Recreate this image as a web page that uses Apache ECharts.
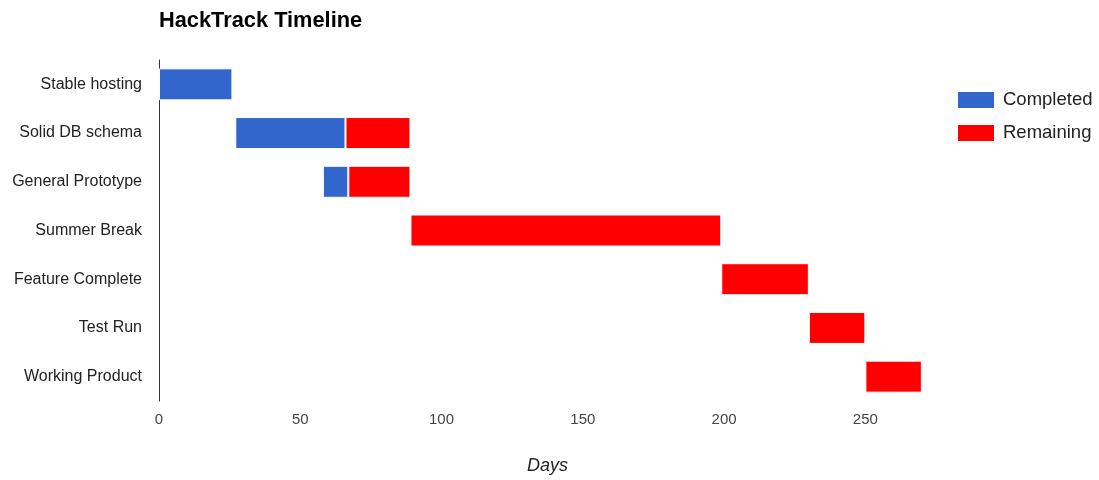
<!DOCTYPE html>
<html>
<head>
<meta charset="utf-8">
<script src="https://cdn.jsdelivr.net/npm/echarts@6/dist/echarts.min.js"></script>
<style>
  html, body { margin: 0; padding: 0; background: #fff; }
  #chart { width: 1099px; height: 480px; }
</style>
</head>
<body>
<div id="chart"></div>
<script>
// Project milestones, top to bottom
const tasks = ['Stable hosting', 'Solid DB schema', 'General Prototype', 'Summer Break',
               'Feature Complete', 'Test Run', 'Working Product'];
// Day on which each milestone starts
const startDays = [0, 27, 58, 89, 199, 230, 250];
// Days already done and days still to go
const completedDays = [26, 39, 9, 0, 0, 0, 0];
const remainingDays = [0, 23, 22, 110, 31, 20, 20];
// Tick values along the day axis
const dayTicks = [0, 50, 100, 150, 200, 250];

const FONT = '"Liberation Sans", Arial, sans-serif';
const chart = echarts.init(document.getElementById('chart'));

// thin white outline separates adjoining segments
const barStyle = { borderColor: '#ffffff', borderWidth: 1 };
const BAR_W = 32;

chart.setOption({
  animation: false,
  textStyle: { fontFamily: FONT },
  title: {
    text: 'HackTrack Timeline',
    left: 159, top: 10,
    padding: 0,
    textStyle: { fontFamily: FONT, fontSize: 21.8, fontWeight: 'bold', color: '#000' }
  },
  legend: {
    data: ['Completed', 'Remaining'],
    orient: 'vertical',
    left: 956, top: 90,
    padding: 0,
    itemWidth: 38, itemHeight: 18, itemGap: 13,
    icon: 'rect',
    textStyle: { fontFamily: FONT, fontSize: 18.5, color: '#222', padding: [0, 0, 0, 3] }
  },
  grid: { left: 159, top: 60, width: 777, height: 345 },
  xAxis: {
    type: 'value',
    min: dayTicks[0],
    max: 275,
    interval: 50,
    axisLine: { show: false },
    axisTick: { show: false },
    splitLine: { show: false },
    axisLabel: {
      showMaxLabel: false,
      margin: 11,
      fontFamily: FONT, fontSize: 15, color: '#444',
      formatter: v => dayTicks.includes(v) ? String(v) : ''
    },
    name: 'Days',
    nameLocation: 'middle',
    nameGap: 56,
    nameTextStyle: { fontFamily: FONT, fontSize: 18, fontStyle: 'italic', color: '#222' }
  },
  yAxis: {
    type: 'category',
    data: tasks,
    inverse: true,
    axisLine: { show: true, lineStyle: { color: '#333', width: 1 } },
    axisTick: { show: false },
    splitLine: { show: false },
    axisLabel: { margin: 17, fontFamily: FONT, fontSize: 16, color: '#222' }
  },
  series: [
    {
      name: 'offset', type: 'bar', stack: 'days',
      data: startDays,
      barWidth: BAR_W,
      itemStyle: { color: 'transparent' },
      silent: true
    },
    {
      name: 'Completed', type: 'bar', stack: 'days',
      data: completedDays,
      barWidth: BAR_W,
      itemStyle: Object.assign({ color: '#3366cc' }, barStyle)
    },
    {
      name: 'Remaining', type: 'bar', stack: 'days',
      data: remainingDays,
      barWidth: BAR_W,
      itemStyle: Object.assign({ color: '#ff0000' }, barStyle)
    }
  ]
});
</script>
</body>
</html>
